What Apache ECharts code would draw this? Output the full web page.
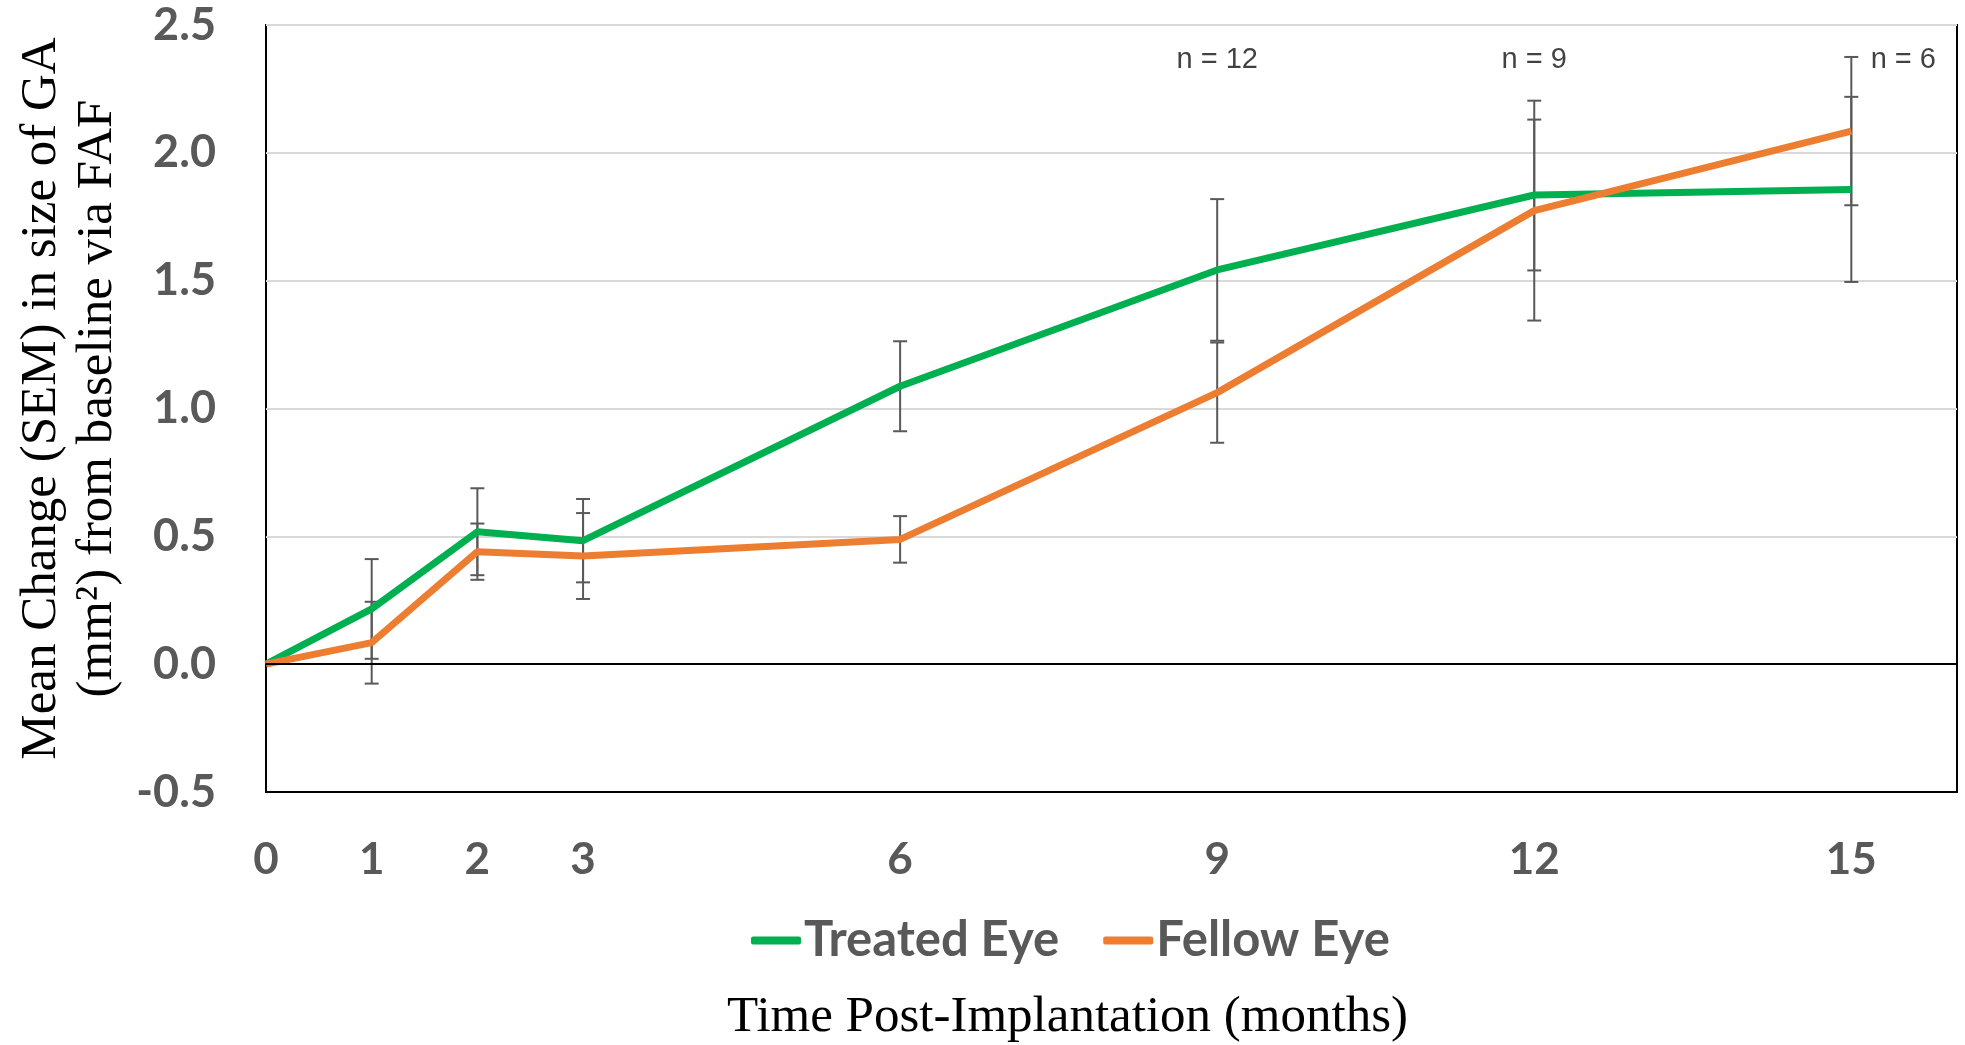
<!DOCTYPE html>
<html lang="en">
<head>
    <meta charset="UTF-8">
    <style>
        html, body { margin: 0; padding: 0; background: #fff; }
        #main { width: 1965px; height: 1045px; }
    </style>
    <title>GA change</title>
</head>
<body>
    <div id="main"></div>
    <script src="https://cdn.jsdelivr.net/npm/echarts@6/dist/echarts.min.js"></script>
    <script>
        // months after implantation
        var months = [0, 1, 2, 3, 6, 9, 12, 15];
        var monthTicks = [0, 1, 2, 3, 6, 9, 12, 15];

        // mean change and SEM
        var treatedMean = [0, 0.216, 0.518, 0.483, 1.087, 1.542, 1.835, 1.857];
        var treatedSem = [0, 0.195, 0.17, 0.163, 0.176, 0.277, 0.295, 0.362];
        var fellowMean = [0, 0.084, 0.44, 0.423, 0.488, 1.062, 1.774, 2.085];
        var fellowSem = [0, 0.16, 0.11, 0.168, 0.091, 0.196, 0.43, 0.29];

        // sample size notes
        var nMonths = [9, 12, 15];
        var nLabels = ['n = 12', 'n = 9', 'n = 6'];
        var nLevel = 2.365;

        var labelGray = '#595959';

        function pairs(xs, ys) {
            return xs.map(function (x, i) { return [x, ys[i]]; });
        }

        // [x, low, high] for each error bar
        function bars(xs, mean, sem) {
            var out = [];
            xs.forEach(function (x, i) {
                if (sem[i] > 0) out.push([x, mean[i] - sem[i], mean[i] + sem[i]]);
            });
            return out;
        }

        function renderErrorBar(params, api) {
            var lo = api.coord([api.value(0), api.value(1)]);
            var hi = api.coord([api.value(0), api.value(2)]);
            var half = 7;
            var st = { stroke: '#595959', lineWidth: 2 };
            return {
                type: 'group',
                children: [
                    { type: 'line', shape: { x1: lo[0], y1: lo[1], x2: hi[0], y2: hi[1] }, style: st },
                    { type: 'line', shape: { x1: lo[0] - half, y1: lo[1], x2: lo[0] + half, y2: lo[1] }, style: st },
                    { type: 'line', shape: { x1: hi[0] - half, y1: hi[1], x2: hi[0] + half, y2: hi[1] }, style: st }
                ]
            };
        }

        var myChart = echarts.init(document.getElementById('main'));

        var option = {
            animation: false,
            backgroundColor: '#fff',
            grid: {
                left: 266,
                right: 8,
                top: 25,
                bottom: 253,
                outerBoundsMode: 'none',
                show: true,
                borderColor: '#000',
                borderWidth: 2,
                backgroundColor: 'transparent'
            },
            legend: {
                data: ['Treated Eye', 'Fellow Eye'],
                left: 746,
                top: 911,
                icon: 'roundRect',
                itemWidth: 50,
                itemHeight: 8,
                itemGap: 44,
                textStyle: {
                    fontFamily: 'Lato',
                    fontWeight: 'bold',
                    fontSize: 49,
                    color: labelGray,
                    padding: [0, 0, 0, -2]
                }
            },
            xAxis: {
                type: 'value',
                min: 0,
                max: 16,
                interval: 1,
                name: 'Time Post-Implantation (months)',
                nameLocation: 'middle',
                nameGap: 200,
                nameTextStyle: {
                    fontFamily: 'Liberation Serif',
                    fontSize: 51,
                    color: '#000',
                    padding: [0, 88, 0, 0]
                },
                axisLine: { onZero: false, lineStyle: { color: '#000', width: 2 } },
                axisTick: { show: false },
                splitLine: { show: false },
                axisLabel: {
                    margin: 46,
                    fontFamily: 'Lato',
                    fontWeight: 'bold',
                    fontSize: 44,
                    color: labelGray,
                    formatter: function (v) {
                        return monthTicks.indexOf(v) >= 0 ? String(v) : '';
                    }
                }
            },
            yAxis: {
                type: 'value',
                min: -0.5,
                max: 2.5,
                interval: 0.5,
                name: 'Mean Change (SEM) in size of GA\n(mm²) from baseline via FAF',
                nameLocation: 'middle',
                nameRotate: 90,
                nameGap: 140,
                nameTextStyle: {
                    fontFamily: 'Liberation Serif',
                    fontSize: 51,
                    lineHeight: 56,
                    color: '#000',
                    align: 'center',
                    padding: [0, 0, 0, 20]
                },
                axisLine: { show: false },
                axisTick: { show: false },
                splitLine: { lineStyle: { color: '#d9d9d9', width: 2 } },
                axisLabel: {
                    margin: 50,
                    fontFamily: 'Lato',
                    fontWeight: 'bold',
                    fontSize: 45,
                    color: labelGray,
                    formatter: function (v) { return v.toFixed(1); }
                }
            },
            series: [
                {
                    name: 'Treated Eye',
                    type: 'line',
                    data: pairs(months, treatedMean),
                    showSymbol: false,
                    symbol: 'none',
                    color: '#00b050',
                    lineStyle: { width: 7, color: '#00b050' },
                    z: 3,
                    markLine: {
                        silent: true,
                        symbol: ['none', 'none'],
                        label: { show: false },
                        lineStyle: { color: '#000', width: 2, type: 'solid' },
                        data: [{ yAxis: 0 }]
                    }
                },
                {
                    name: 'Fellow Eye',
                    type: 'line',
                    data: pairs(months, fellowMean),
                    showSymbol: false,
                    symbol: 'none',
                    color: '#ed7d31',
                    lineStyle: { width: 7, color: '#ed7d31' },
                    z: 4
                },
                {
                    name: 'Treated SEM',
                    type: 'custom',
                    renderItem: renderErrorBar,
                    data: bars(months, treatedMean, treatedSem),
                    encode: { x: 0, y: [1, 2] },
                    z: 2
                },
                {
                    name: 'Fellow SEM',
                    type: 'custom',
                    renderItem: renderErrorBar,
                    data: bars(months, fellowMean, fellowSem),
                    encode: { x: 0, y: [1, 2] },
                    z: 2
                },
                {
                    name: 'n',
                    type: 'scatter',
                    symbolSize: 0,
                    silent: true,
                    data: nMonths.map(function (m, i) {
                        return {
                            value: [m, nLevel],
                            label: i === nMonths.length - 1 ? { offset: [52, 0] } : {}
                        };
                    }),
                    label: {
                        show: true,
                        position: 'inside',
                        fontFamily: 'Liberation Sans',
                        fontSize: 29,
                        color: '#111',
                        formatter: function (p) { return nLabels[p.dataIndex]; }
                    }
                }
            ]
        };

        myChart.setOption(option);
    </script>
</body>
</html>
